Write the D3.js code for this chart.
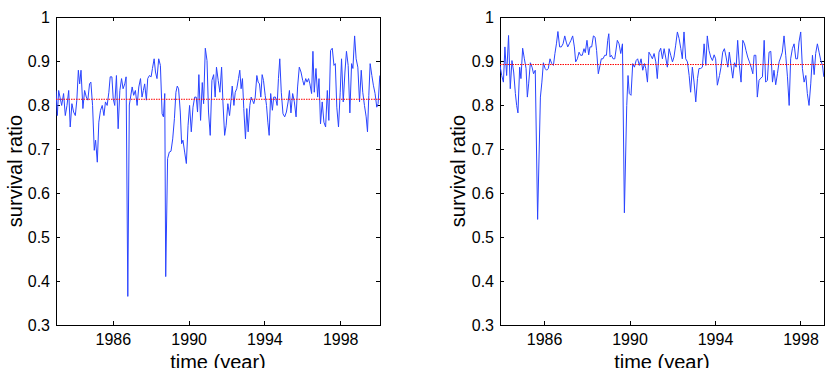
<!doctype html>
<html>
  <meta charset="utf-8">
  <head>
    <script src="https://d3js.org/d3.v7.min.js"></script>
    <style type='text/css'>
      body{ margin:0; background:#fff; }
      svg{ font-family:"Liberation Sans", Arial, sans-serif; }
      path.domain{ stroke:none; }
      rect.frame{ fill:none; stroke:#000; stroke-width:1px; shape-rendering:crispEdges; }
      path.series{ fill:none; stroke:#2a44ff; stroke-width:1px; stroke-linejoin:round; }
      line.mean{ stroke:#ff0000; stroke-width:1px; stroke-dasharray:1.5,1; }
      text.label{ font-size:20px; fill:#000; }
    </style>
  </head>
  <body>
    <svg id='chart' width="830" height="368"></svg>
    <script type='text/javascript'>
      // tick values shared by both panels
      var xTicks = [1986, 1990, 1994, 1998];
      var yTicks = [0.3, 0.4, 0.5, 0.6, 0.7, 0.8, 0.9, 1];
      var yDomain = [0.3, 1];

      // left panel
      var leftDomain = [1983, 2000.1];
      var leftMean = 0.813;
      var leftYears = [
        1983.00,1983.07,1983.14,1983.21,1983.30,1983.40,1983.49,1983.58,1983.67,1983.75,1983.84,1983.93,
        1984.02,1984.10,1984.18,1984.25,1984.32,1984.42,1984.51,1984.60,1984.68,1984.77,1984.84,1984.93,
        1985.02,1985.09,1985.18,1985.26,1985.35,1985.44,1985.53,1985.61,1985.70,1985.79,1985.86,1985.95,
        1986.02,1986.10,1986.19,1986.28,1986.37,1986.46,1986.54,1986.63,1986.70,1986.79,1986.87,
        1987.02,1987.10,1987.19,1987.28,1987.37,1987.46,1987.54,1987.61,1987.68,1987.77,1987.84,1987.93,
        1988.02,1988.09,1988.18,1988.25,1988.33,1988.42,1988.51,1988.60,1988.67,1988.74,1988.79,1988.89,1988.98,
        1989.07,1989.16,1989.25,1989.33,1989.40,1989.47,1989.56,1989.63,1989.70,1989.79,1989.88,1989.97,
        1990.05,1990.14,1990.23,1990.32,1990.40,1990.47,1990.54,1990.63,1990.72,1990.79,1990.88,1990.97,
        1991.05,1991.14,1991.23,1991.32,1991.40,1991.47,1991.56,1991.65,1991.74,1991.81,1991.90,1991.98,
        1992.07,1992.16,1992.23,1992.30,1992.39,1992.46,1992.54,1992.63,1992.70,1992.77,1992.84,1992.91,
        1993.00,1993.07,1993.14,1993.23,1993.30,1993.37,1993.44,1993.51,1993.60,1993.67,1993.74,1993.81,1993.88,1993.95,
        1994.04,1994.11,1994.18,1994.25,1994.33,1994.42,1994.49,1994.58,1994.67,1994.74,1994.81,1994.89,1994.98,
        1995.07,1995.16,1995.25,1995.32,1995.40,1995.49,1995.58,1995.67,1995.75,1995.84,1995.93,
        1996.02,1996.09,1996.18,1996.25,1996.33,1996.40,1996.49,1996.56,1996.63,1996.72,1996.81,1996.88,1996.96,
        1997.05,1997.14,1997.23,1997.32,1997.40,1997.49,1997.58,1997.67,1997.74,1997.82,1997.91,
        1998.00,1998.07,1998.16,1998.25,1998.33,1998.42,1998.51,1998.60,1998.67,1998.76,1998.84,1998.93,
        1999.02,1999.11,1999.19,1999.28,1999.37,1999.44,1999.51,1999.58,1999.67,1999.75,1999.84,1999.93,
        2000.00,2000.09
      ];
      var leftRatio = [
        .833,.776,.833,.818,.799,.826,.776,.799,.833,.750,.803,.784,
        .776,.811,.879,.848,.879,.792,.833,.818,.811,.848,.852,.799,
        .697,.720,.670,.761,.788,.799,.776,.807,.799,.829,.864,.864,
        .814,.799,.867,.746,.833,.860,.837,.848,.864,.365,.800,
        .841,.822,.833,.799,.841,.860,.818,.833,.848,.811,.860,.867,
        .864,.883,.905,.875,.860,.905,.890,.780,.773,.826,.410,.678,.693,
        .695,.723,.769,.829,.843,.837,.784,.712,.720,.693,.667,.754,
        .799,.739,.795,.818,.818,.784,.869,.765,.851,.803,.929,.901,
        .784,.731,.856,.869,.818,.886,.856,.829,.886,.807,.731,.754,
        .803,.776,.807,.843,.799,.829,.837,.860,.879,.837,.860,.792,
        .723,.792,.739,.799,.818,.811,.803,.816,.867,.852,.848,.818,.869,.856,
        .822,.799,.761,.731,.826,.788,.818,.818,.799,.860,.905,.829,.780,
        .773,.784,.807,.833,.782,.826,.807,.773,.841,.886,.875,
        .856,.845,.860,.852,.860,.848,.826,.922,.829,.883,.818,.860,.757,
        .807,.761,.750,.833,.765,.924,.929,.890,.894,.795,.750,
        .829,.905,.807,.875,.922,.890,.782,.894,.883,.957,.905,.886,
        .807,.879,.829,.799,.773,.739,.822,.894,.867,.845,.826,.795,
        .803,.867
      ];

      // right panel
      var rightDomain = [1983.94, 1999.1];
      var rightMean = 0.892;
      var rightYears = [
        1983.94,1984.02,1984.10,1984.17,1984.25,1984.34,1984.42,1984.50,1984.58,1984.66,1984.72,1984.78,1984.86,1984.92,
        1985.00,1985.08,1985.16,1985.22,1985.28,1985.36,1985.44,1985.51,1985.59,1985.70,1985.83,1985.90,1985.97,
        1986.05,1986.12,1986.20,1986.28,1986.36,1986.44,1986.51,1986.58,1986.65,1986.73,1986.81,1986.89,1986.97,
        1987.04,1987.11,1987.18,1987.26,1987.34,1987.42,1987.48,1987.56,1987.64,1987.71,1987.79,1987.87,1987.93,
        1988.01,1988.09,1988.15,1988.23,1988.31,1988.39,1988.46,1988.54,1988.62,1988.68,1988.76,1988.84,1988.92,1988.98,
        1989.03,1989.09,1989.15,1989.23,1989.31,1989.43,1989.51,1989.59,1989.67,1989.76,1989.87,1989.93,1989.99,
        1990.07,1990.15,1990.23,1990.31,1990.38,1990.46,1990.54,1990.62,1990.70,1990.76,1990.84,1990.91,1990.99,
        1991.07,1991.15,1991.23,1991.30,1991.38,1991.46,1991.54,1991.62,1991.69,1991.77,1991.85,1991.93,
        1992.01,1992.08,1992.16,1992.24,1992.32,1992.40,1992.47,1992.55,1992.63,1992.71,1992.79,1992.86,1992.94,
        1993.02,1993.10,1993.18,1993.25,1993.33,1993.41,1993.49,1993.57,1993.64,1993.72,1993.80,1993.88,1993.96,
        1994.03,1994.11,1994.21,1994.28,1994.36,1994.44,1994.52,1994.60,1994.67,1994.75,1994.83,1994.91,1994.99,
        1995.06,1995.14,1995.22,1995.30,1995.38,1995.45,1995.53,1995.61,1995.69,1995.77,1995.83,1995.91,1995.98,
        1996.06,1996.14,1996.22,1996.30,1996.37,1996.45,1996.53,1996.61,1996.69,1996.76,1996.84,1996.92,
        1997.00,1997.08,1997.15,1997.23,1997.31,1997.39,1997.47,1997.54,1997.62,1997.70,1997.78,1997.86,1997.93,
        1998.01,1998.09,1998.17,1998.25,1998.32,1998.40,1998.48,1998.56,1998.64,1998.71,1998.79,1998.87,1998.95,
        1999.03,1999.09
      ];
      var rightRatio = [
        .890,.867,.852,.932,.867,.958,.837,.901,.875,.826,.799,.782,.886,.860,
        .929,.905,.883,.818,.848,.896,.886,.871,.879,.540,.818,.852,.896,
        .883,.879,.883,.905,.894,.890,.917,.939,.967,.932,.932,.939,.957,
        .943,.932,.939,.947,.957,.932,.898,.905,.920,.913,.913,.928,.919,
        .947,.914,.932,.932,.957,.954,.924,.871,.890,.905,.905,.913,.913,.947,
        .962,.909,.913,.905,.905,.947,.939,.917,.939,.555,.799,.867,.826,
        .822,.894,.886,.901,.905,.890,.905,.879,.894,.883,.852,.920,.913,
        .905,.917,.898,.860,.920,.929,.905,.928,.909,.886,.928,.913,
        .898,.909,.936,.966,.951,.928,.905,.966,.905,.898,.867,.829,.886,
        .852,.807,.860,.883,.883,.886,.939,.890,.957,.924,.909,.901,.914,
        .905,.845,.867,.886,.920,.928,.909,.886,.920,.890,.861,.896,.886,
        .947,.890,.852,.947,.939,.924,.909,.898,.886,.871,.913,.913,.818,
        .856,.861,.864,.947,.852,.856,.920,.922,.852,.879,.846,.871,
        .898,.909,.920,.957,.913,.864,.799,.905,.928,.939,.905,.905,.943,
        .966,.883,.852,.867,.826,.799,.848,.913,.869,.917,.939,.920,.901,
        .890,.864
      ];

      var svg = d3.select('svg');
      var plotTop = 17, plotBottom = 325;

      drawPanel({left:56, right:380, domain:leftDomain, years:leftYears, ratio:leftRatio, mean:leftMean, yLabelX:22, id:'l'});
      drawPanel({left:500, right:824, domain:rightDomain, years:rightYears, ratio:rightRatio, mean:rightMean, yLabelX:465, id:'r'});

      function drawPanel(o){
        var xScale = d3.scaleLinear().domain(o.domain).range([o.left, o.right]);
        var yScale = d3.scaleLinear().domain(yDomain).range([plotBottom, plotTop]);
        var g = svg.append('g');

        g.append('clipPath').attr('id','clip-'+o.id)
          .append('rect').attr('x',o.left).attr('y',plotTop)
          .attr('width',o.right-o.left).attr('height',plotBottom-plotTop);

        // ticks point inward on all four sides
        var axes = [];
        axes.push(g.append('g').attr('transform','translate(0,'+plotBottom+')')
          .call(d3.axisBottom(xScale).tickValues(xTicks).tickSizeInner(-4).tickSizeOuter(0)
            .tickPadding(9).tickFormat(d3.format('d'))));
        axes.push(g.append('g').attr('transform','translate(0,'+plotTop+')')
          .call(d3.axisTop(xScale).tickValues(xTicks).tickSizeInner(-4).tickSizeOuter(0).tickFormat('')));
        axes.push(g.append('g').attr('transform','translate('+o.left+',0)')
          .call(d3.axisLeft(yScale).tickValues(yTicks).tickSizeInner(-4).tickSizeOuter(0)
            .tickPadding(6).tickFormat((d)=>{ return String(d); })));
        axes.push(g.append('g').attr('transform','translate('+o.right+',0)')
          .call(d3.axisRight(yScale).tickValues(yTicks).tickSizeInner(-4).tickSizeOuter(0).tickFormat('')));
        axes.forEach((a)=>{
          a.attr('font-size','16px').attr('font-family','"Liberation Sans", Arial, sans-serif');
          a.selectAll('line').attr('stroke','#000').style('shape-rendering','crispEdges');
          a.selectAll('text').attr('fill','#000').style('font-size','16px');
        });

        g.append('rect').attr('class','frame')
          .attr('x',o.left).attr('y',plotTop)
          .attr('width',o.right-o.left).attr('height',plotBottom-plotTop);

        var pts = o.years.map((y,i)=>{ return [y, o.ratio[i]]; });
        var line = d3.line()
          .x((d)=>{ return xScale(d[0]); })
          .y((d)=>{ return yScale(d[1]); });

        g.append('path').attr('class','series')
          .attr('clip-path','url(#clip-'+o.id+')')
          .attr('d', line(pts));

        //mean line
        g.append('line').attr('class','mean')
          .attr('x1',xScale(o.domain[0])).attr('x2',xScale(o.domain[1]))
          .attr('y1',yScale(o.mean)).attr('y2',yScale(o.mean));

        g.append('text').attr('class','label')
          .attr('text-anchor','middle')
          .attr('transform','translate('+o.yLabelX+','+((plotTop+plotBottom)/2)+') rotate(-90)')
          .text('survival ratio');
        g.append('text').attr('class','label')
          .attr('text-anchor','middle')
          .attr('x',(o.left+o.right)/2).attr('y',369)
          .text('time (year)');
      }
    </script>
  </body>
</html>
